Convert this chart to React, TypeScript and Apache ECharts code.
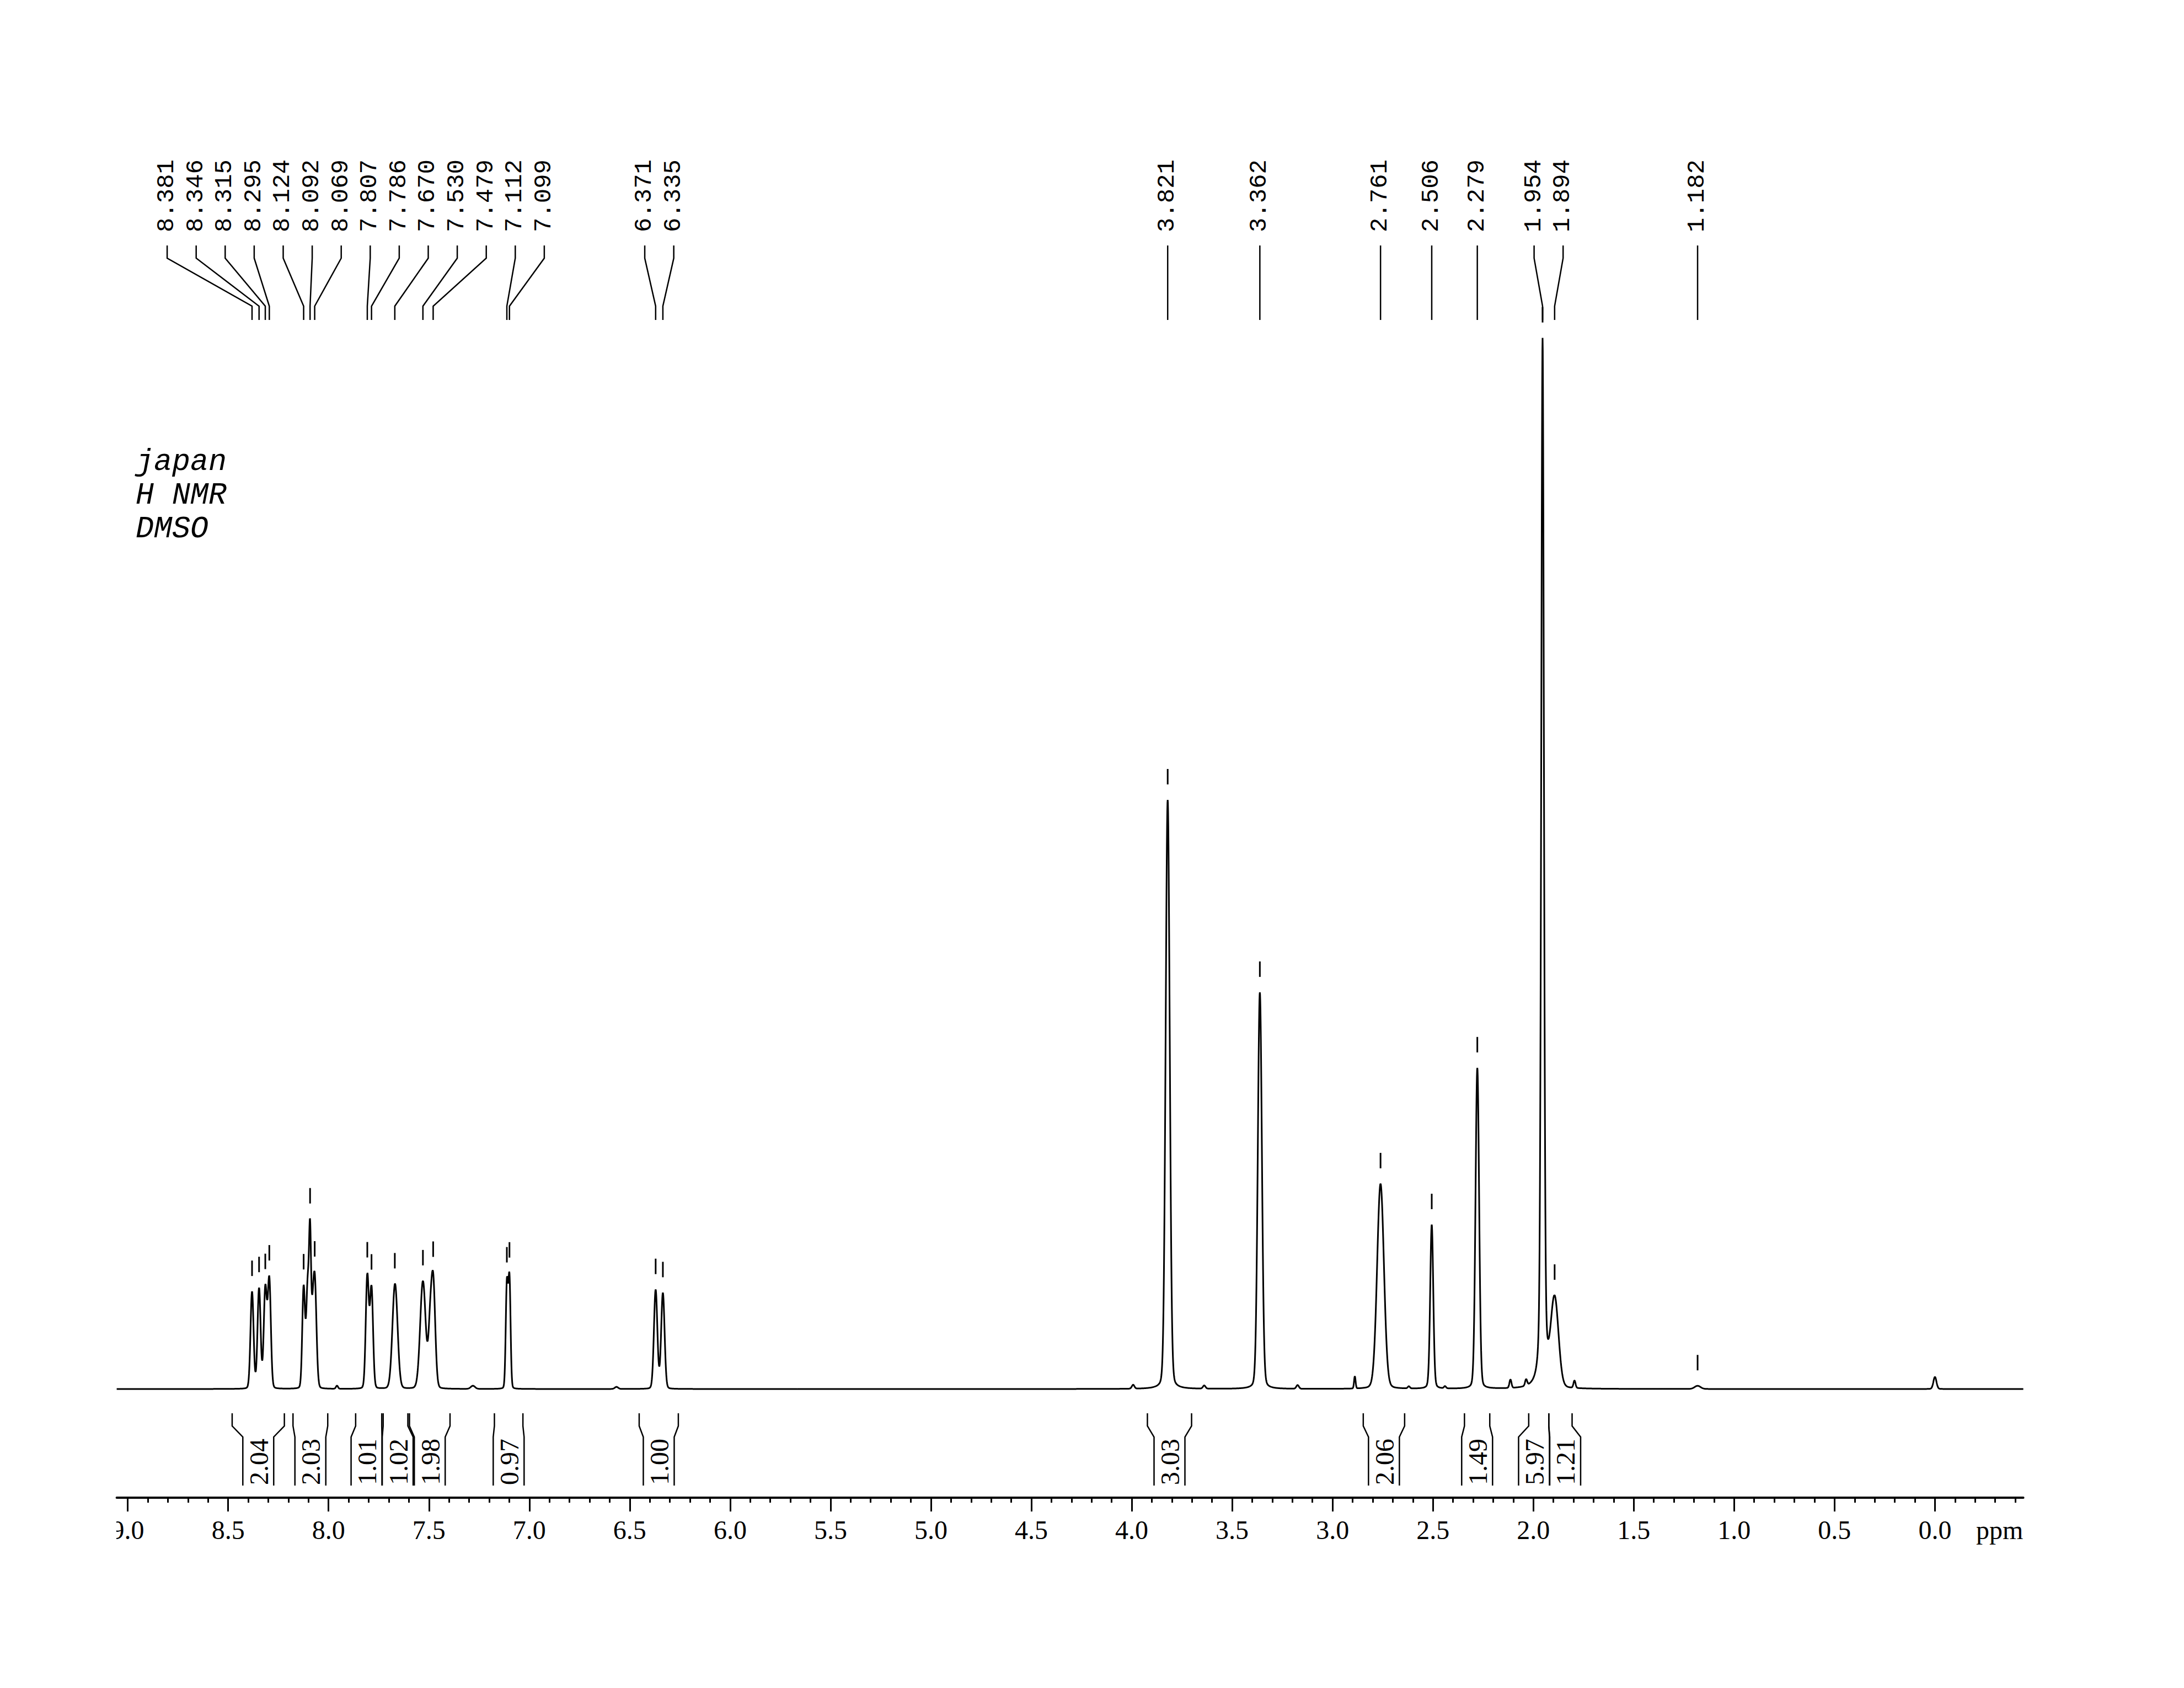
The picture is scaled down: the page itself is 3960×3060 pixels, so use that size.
import React, { useEffect, useRef } from "react";
import * as echarts from "echarts";

// ---------------- data ----------------
// axis range (ppm, reversed)
const X_MIN = -0.44;
const X_MAX = 9.055;
const AXIS_TICKS = [0.0, 0.5, 1.0, 1.5, 2.0, 2.5, 3.0, 3.5, 4.0, 4.5, 5.0, 5.5, 6.0, 6.5, 7.0, 7.5, 8.0, 8.5, 9.0];

// spectral lines: position (ppm), height (% of tallest), FWHM (ppm), Lorentzian fraction
const LINE_PPM = [
  8.381, 8.346, 8.315, 8.295,
  8.124, 8.104, 8.092, 8.081, 8.069,
  7.958,
  7.807, 7.786,
  7.669,
  7.530, 7.495, 7.479,
  7.281,
  7.112, 7.099,
  6.566,
  6.371, 6.335,
  3.993, 3.821, 3.639, 3.362, 3.174,
  2.889, 2.761, 2.620, 2.506, 2.440, 2.279,
  2.114, 2.036, 1.954, 1.894, 1.795,
  1.182, 0.000,
];
const LINE_HEIGHT = [
  9.2, 9.5, 9.4, 10.3,
  9.6, 9.5, 13.0, 3.5, 10.5,
  0.3,
  10.7, 9.5,
  10.0,
  10.2, 4.5, 10.2,
  0.3,
  9.8, 10.3,
  0.2,
  9.4, 9.1,
  0.37, 56.0, 0.3, 37.7, 0.35,
  1.15, 19.5, 0.2, 15.6, 0.2, 30.5,
  0.8, 0.6, 99.8, 8.3, 0.7,
  0.3, 1.15,
];
const LINE_WIDTH = [
  0.018, 0.018, 0.018, 0.018,
  0.016, 0.016, 0.012, 0.014, 0.020,
  0.012,
  0.018, 0.018,
  0.030,
  0.032, 0.020, 0.024,
  0.025,
  0.013, 0.013,
  0.020,
  0.020, 0.020,
  0.015, 0.024, 0.015, 0.024, 0.015,
  0.009, 0.040, 0.012, 0.018, 0.012, 0.021,
  0.012, 0.012, 0.016, 0.045, 0.012,
  0.035, 0.018,
];
const LINE_LORENTZ = [
  0.08, 0.08, 0.08, 0.08,
  0.08, 0.08, 0.08, 0.08, 0.08,
  0.05,
  0.08, 0.08,
  0.08,
  0.08, 0.08, 0.08,
  0.05,
  0.08, 0.08,
  0.05,
  0.08, 0.08,
  0.05, 0.12, 0.05, 0.12, 0.05,
  0.05, 0.10, 0.05, 0.15, 0.05, 0.12,
  0.05, 0.05, 0.35, 0.05, 0.05,
  0.05, 0.10,
];

// picked peaks
const PEAK_LABELS = [
  8.381, 8.346, 8.315, 8.295, 8.124, 8.092, 8.069, 7.807, 7.786, 7.670, 7.530, 7.479, 7.112, 7.099,
  6.371, 6.335,
  3.821, 3.362, 2.761, 2.506, 2.279, 1.954, 1.894, 1.182,
];

// integrals
const INTEGRAL_FROM = [8.48, 8.177, 7.865, 7.728, 7.597, 7.174, 6.453, 3.922, 2.847, 2.343, 2.023, 1.923];
const INTEGRAL_TO = [8.22, 8.004, 7.735, 7.605, 7.395, 7.032, 6.258, 3.702, 2.641, 2.217, 1.923, 1.807];
const INTEGRAL_VALUES = [2.04, 2.03, 1.01, 1.02, 1.98, 0.97, 1.0, 3.03, 2.06, 1.49, 5.97, 1.21];

const SAMPLE_NOTE = ["japan", "H NMR", "DMSO"];

// ---------------- layout (pixels) ----------------
const W = 3960;
const H = 3060;
const GRID = { left: 211.6, right: 291.4, top: 611, bottom: 542 };
const AXIS_OFFSET = 197;
const PX_PER_PPM = (W - GRID.left - GRID.right) / (X_MAX - X_MIN);

const LABEL_Y = 355;
const LINK_Y = [445, 468, 555, 580];
const LABEL_GAP_PX = 52.6;
const MARKER_GAP = 28;
const MARKER_LEN = 28;

const INT_Y = [2562, 2585, 2605, 2693];
const INT_TEXT_Y = 2650;
const INT_BOX_HALF = 28;
const INT_GAP_PX = 56.5;

// ---------------- helpers ----------------
function lineShape(x: number, c: number, h: number, w: number, eta: number) {
  const d = (x - c) / (w / 2);
  const g = Math.exp(-Math.LN2 * d * d);
  const l = 1 / (1 + d * d);
  return h * ((1 - eta) * g + eta * l);
}

function spectrumAt(x: number) {
  let s = 0;
  for (let i = 0; i < LINE_PPM.length; i++) {
    s += lineShape(x, LINE_PPM[i], LINE_HEIGHT[i], LINE_WIDTH[i], LINE_LORENTZ[i]);
  }
  return s;
}

// spread labels so that neighbours are at least `gap` apart, clusters centred on the mean
function spread(ideal: number[], gap: number): number[] {
  const order = ideal.map((_, i) => i).sort((a, b) => ideal[a] - ideal[b]);
  let groups = order.map((i) => ({ members: [i], center: ideal[i] }));
  let changed = true;
  while (changed) {
    changed = false;
    for (let g = 0; g < groups.length - 1; g++) {
      const A = groups[g];
      const B = groups[g + 1];
      const aEnd = A.center + ((A.members.length - 1) * gap) / 2;
      const bStart = B.center - ((B.members.length - 1) * gap) / 2;
      if (bStart - aEnd < gap - 1e-9) {
        const members = A.members.concat(B.members);
        const center = members.reduce((s, i) => s + ideal[i], 0) / members.length;
        groups.splice(g, 2, { members, center });
        changed = true;
        break;
      }
    }
  }
  const out = new Array(ideal.length).fill(0);
  groups.forEach((grp) => {
    const n = grp.members.length;
    grp.members.forEach((idx, k) => {
      out[idx] = grp.center + (k - (n - 1) / 2) * gap;
    });
  });
  return out;
}

const STEP = 0.001;

export default function App() {
  const ref = useRef<HTMLDivElement>(null);

  useEffect(() => {
    if (!ref.current) return;
    const chart = echarts.init(ref.current, null, { renderer: "svg" });

    const spectrum: number[][] = [];
    const n = Math.round((X_MAX - X_MIN) / STEP);
    for (let i = 0; i <= n; i++) {
      const x = X_MIN + i * STEP;
      spectrum.push([x, spectrumAt(x)]);
    }

    const labelPos = spread(PEAK_LABELS, LABEL_GAP_PX / PX_PER_PPM);
    const intCenters = spread(
      INTEGRAL_FROM.map((f, i) => (f + INTEGRAL_TO[i]) / 2),
      INT_GAP_PX / PX_PER_PPM
    );

    const minorTicks: number[] = [];
    for (let k = -4; k <= 90; k++) {
      if (k % 5 !== 0) minorTicks.push(k / 10);
    }

    const textStyleCenter = {
      align: "center",
      verticalAlign: "middle",
      textAlign: "center",
      textVerticalAlign: "middle",
    };

    const option: any = {
      animation: false,
      backgroundColor: "#ffffff",
      grid: {
        left: GRID.left,
        right: GRID.right,
        top: GRID.top,
        bottom: GRID.bottom,
        containLabel: false,
        outerBoundsMode: "none",
      },
      xAxis: [
        {
          type: "value",
          min: X_MIN,
          max: X_MAX,
          inverse: true,
          position: "bottom",
          offset: AXIS_OFFSET,
          axisLine: { show: true, onZero: false, lineStyle: { color: "#000", width: 4 } },
          axisTick: {
            show: true,
            customValues: AXIS_TICKS,
            length: 25,
            inside: false,
            lineStyle: { color: "#000", width: 3 },
          },
          axisLabel: {
            show: true,
            customValues: AXIS_TICKS,
            formatter: (v: number) => Number(v).toFixed(1),
            margin: 34,
            fontFamily: '"Liberation Serif", serif',
            fontSize: 48,
            color: "#000",
          },
          splitLine: { show: false },
        },
        {
          type: "value",
          min: X_MIN,
          max: X_MAX,
          inverse: true,
          position: "bottom",
          offset: AXIS_OFFSET,
          axisLine: { show: false, onZero: false },
          axisTick: {
            show: true,
            customValues: minorTicks,
            length: 9,
            inside: false,
            lineStyle: { color: "#000", width: 3 },
          },
          axisLabel: { show: false },
          splitLine: { show: false },
        },
      ],
      yAxis: { type: "value", min: 0, max: 100, show: false },
      graphic: [
        ...SAMPLE_NOTE.map((t, i) => ({
          type: "text",
          x: 246,
          y: 837 + i * 61,
          z: 50,
          style: {
            text: t,
            font: 'italic 55px "Liberation Mono", monospace',
            fill: "#000",
            align: "left",
            verticalAlign: "middle",
            textAlign: "left",
            textVerticalAlign: "middle",
          },
        })),
        {
          type: "text",
          x: 3583,
          y: H - GRID.bottom + AXIS_OFFSET + 34,
          z: 50,
          style: {
            text: "ppm",
            font: '48px "Liberation Serif", serif',
            fill: "#000",
            align: "left",
            verticalAlign: "top",
            textAlign: "left",
            textVerticalAlign: "top",
          },
        },
        {
          type: "rect",
          x: 0,
          y: 2735,
          z: 100,
          shape: { x: 0, y: 0, width: 211, height: 90 },
          style: { fill: "#ffffff" },
        },
      ],
      series: [
        {
          type: "line",
          name: "1H NMR",
          data: spectrum,
          showSymbol: false,
          symbol: "none",
          clip: false,
          silent: true,
          lineStyle: { color: "#000", width: 3 },
          z: 3,
        },
        {
          type: "custom",
          name: "peak markers",
          coordinateSystem: "cartesian2d",
          clip: false,
          silent: true,
          data: PEAK_LABELS.map((p) => [p, spectrumAt(p)]),
          renderItem: (params: any, api: any) => {
            const p = api.coord([api.value(0), api.value(1)]);
            return {
              type: "line",
              shape: { x1: p[0], y1: p[1] - MARKER_GAP, x2: p[0], y2: p[1] - MARKER_GAP - MARKER_LEN },
              style: { stroke: "#000", lineWidth: 3 },
            };
          },
          z: 4,
        },
        {
          type: "custom",
          name: "peak labels",
          coordinateSystem: "cartesian2d",
          clip: false,
          silent: true,
          data: PEAK_LABELS.map((p, i) => [p, 0, labelPos[i]]),
          renderItem: (params: any, api: any) => {
            const i = params.dataIndex;
            const px = api.coord([PEAK_LABELS[i], 0])[0];
            const lx = api.coord([labelPos[i], 0])[0];
            return {
              type: "group",
              children: [
                {
                  type: "polyline",
                  shape: {
                    points: [
                      [lx, LINK_Y[0]],
                      [lx, LINK_Y[1]],
                      [px, LINK_Y[2]],
                      [px, LINK_Y[3]],
                    ],
                  },
                  style: { stroke: "#000", lineWidth: 2.5, fill: "none" },
                },
                {
                  type: "text",
                  x: lx - 1,
                  y: LABEL_Y,
                  rotation: Math.PI / 2,
                  style: {
                    text: PEAK_LABELS[i].toFixed(3),
                    font: '44px "Liberation Mono", monospace',
                    fill: "#000",
                    ...textStyleCenter,
                  },
                },
              ],
            };
          },
          z: 4,
        },
        {
          type: "custom",
          name: "integrals",
          coordinateSystem: "cartesian2d",
          clip: false,
          silent: true,
          data: INTEGRAL_VALUES.map((v, i) => [INTEGRAL_FROM[i], 0, INTEGRAL_TO[i], v]),
          renderItem: (params: any, api: any) => {
            const i = params.dataIndex;
            const xa = api.coord([INTEGRAL_FROM[i], 0])[0];
            const xb = api.coord([INTEGRAL_TO[i], 0])[0];
            const xc = api.coord([intCenters[i], 0])[0];
            const left = Math.min(xa, xb);
            const right = Math.max(xa, xb);
            const bl = xc - INT_BOX_HALF;
            const br = xc + INT_BOX_HALF;
            return {
              type: "group",
              children: [
                {
                  type: "polyline",
                  shape: {
                    points: [
                      [left, INT_Y[0]],
                      [left, INT_Y[1]],
                      [bl, INT_Y[2]],
                      [bl, INT_Y[3]],
                    ],
                  },
                  style: { stroke: "#000", lineWidth: 2.5, fill: "none" },
                },
                {
                  type: "polyline",
                  shape: {
                    points: [
                      [right, INT_Y[0]],
                      [right, INT_Y[1]],
                      [br, INT_Y[2]],
                      [br, INT_Y[3]],
                    ],
                  },
                  style: { stroke: "#000", lineWidth: 2.5, fill: "none" },
                },
                {
                  type: "text",
                  x: xc + 1,
                  y: INT_TEXT_Y,
                  rotation: Math.PI / 2,
                  style: {
                    text: INTEGRAL_VALUES[i].toFixed(2),
                    font: '48px "Liberation Serif", serif',
                    fill: "#000",
                    ...textStyleCenter,
                  },
                },
              ],
            };
          },
          z: 4,
        },
      ],
    };

    chart.setOption(option);
    return () => {
      chart.dispose();
    };
  }, []);

  return (
    <div
      ref={ref}
      style={{ position: "absolute", left: 0, top: 0, width: W, height: H, background: "#fff" }}
    />
  );
}
